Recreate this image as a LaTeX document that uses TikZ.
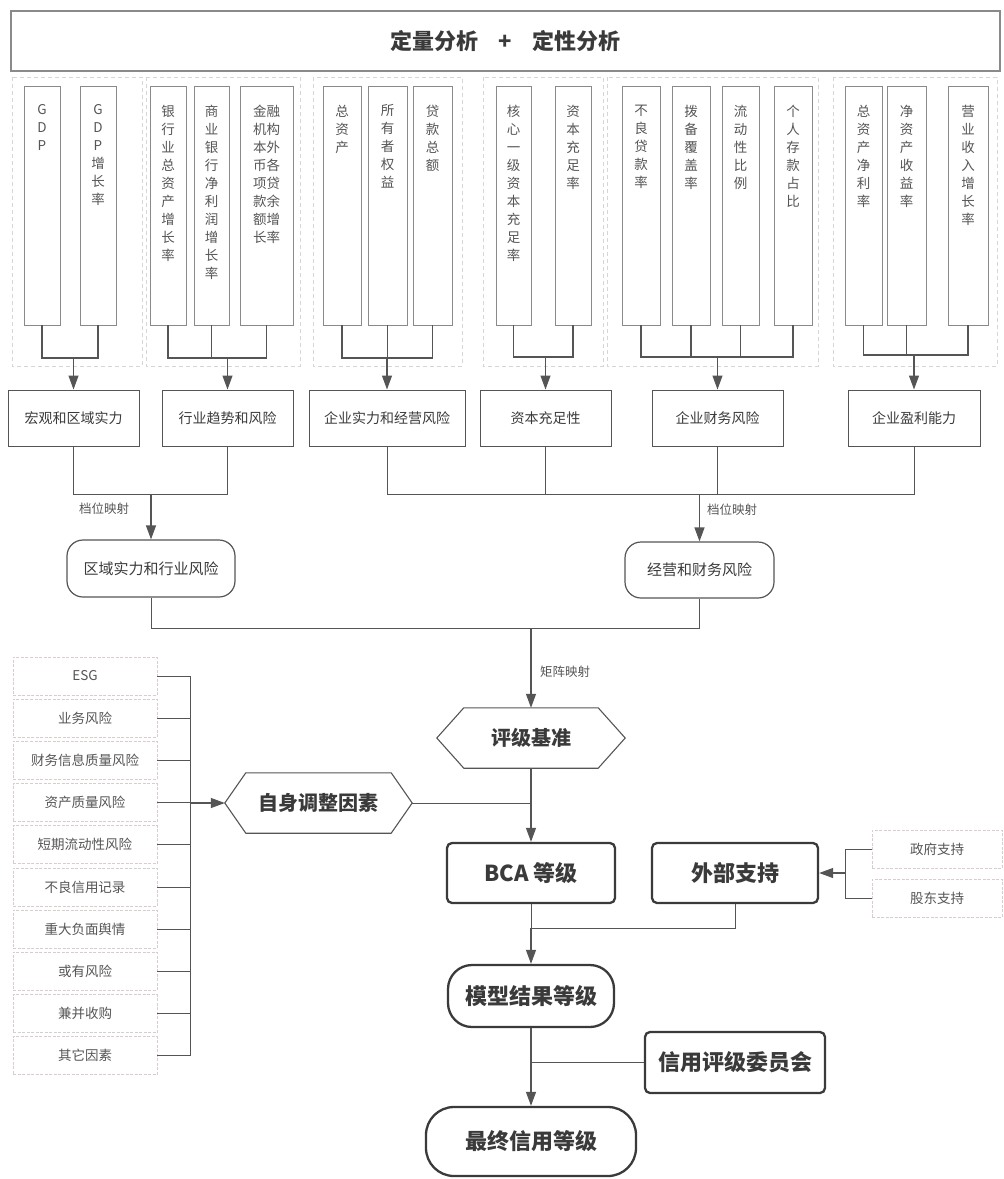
\documentclass[tikz,border=0pt]{standalone}
\usepackage{fontspec}
\setmainfont{Noto Sans CJK SC}
\usetikzlibrary{arrows.meta,calc}
\definecolor{ln}{HTML}{555555}
\definecolor{tx}{HTML}{555555}
\definecolor{dk}{HTML}{3A3A3A}
\definecolor{bx}{HTML}{8A8A8A}
\definecolor{grpc}{HTML}{D6D6D6}
\definecolor{lstc}{HTML}{D8CCCC}
\begin{document}
\begin{tikzpicture}[x=1pt,y=-1pt,
  conn/.style={draw=ln,line width=1.2pt},
  arr/.style={conn,-{Triangle[length=14pt,width=10pt]}},
  tall/.style={draw=bx,line width=0.9pt,inner sep=0pt,minimum height=239pt},
  vt/.style={font=\fontsize{13.5}{18}\selectfont,text=tx,align=center,anchor=north,inner sep=0pt},
  midbox/.style={draw=ln,line width=1pt,font=\fontsize{14}{16}\selectfont,text=dk,minimum height=56pt,inner sep=0pt},
  roundbox/.style={draw=ln,line width=1.2pt,rounded corners=16pt,font=\fontsize{15}{17}\selectfont,text=dk,inner sep=0pt},
  grp/.style={draw=grpc,dash pattern=on 4pt off 3pt,line width=0.8pt},
  lst/.style={draw=lstc,dash pattern=on 3pt off 1.5pt,line width=0.8pt,minimum width=144pt,minimum height=38pt,font=\fontsize{13.5}{15}\selectfont,text=tx,inner sep=0pt},
  thickbox/.style={draw=dk,line width=2.3pt,rounded corners=5pt,font=\bfseries\fontsize{22}{24}\selectfont,text=dk,inner sep=0pt},
  hexlbl/.style={font=\bfseries\fontsize{20}{22}\selectfont,text=dk,inner sep=0pt},
  hexline/.style={draw=ln,line width=1.1pt},
  small/.style={font=\fontsize{12.5}{14}\selectfont,text=tx,inner sep=0pt}
]
\useasboundingbox (0,0) rectangle (1004,1179);

% banner
\node[draw=bx,line width=1.5pt,minimum width=989pt,minimum height=60pt,inner sep=0pt,
      font=\bfseries\fontsize{22}{24}\selectfont,text=dk] (banner) at (505.5,41)
      {定量分析\hspace{20pt}+\hspace{20pt}定性分析};

% dashed groups
\draw[grp] (12,77) rectangle (142,366);
\draw[grp] (146,77) rectangle (300,366);
\draw[grp] (313,77) rectangle (462,366);
\draw[grp] (483,77) rectangle (603,366);
\draw[grp] (607,77) rectangle (818,366);
\draw[grp] (833,77) rectangle (997,366);

% tall boxes
\node[tall,minimum width=36pt] (a1) at (42,205.5) {};
\node[tall,minimum width=36pt] (a2) at (98,205.5) {};
\node[tall,minimum width=36pt] (b1) at (168,205.5) {};
\node[tall,minimum width=35pt] (b2) at (211.5,205.5) {};
\node[tall,minimum width=53pt] (b3) at (266.5,205.5) {};
\node[tall,minimum width=38pt] (c1) at (342,205.5) {};
\node[tall,minimum width=39pt] (c2) at (387.5,205.5) {};
\node[tall,minimum width=39pt] (c3) at (432.5,205.5) {};
\node[tall,minimum width=35pt] (d1) at (513.5,205.5) {};
\node[tall,minimum width=36pt] (d2) at (573,205.5) {};
\node[tall,minimum width=38pt] (e1) at (641,205.5) {};
\node[tall,minimum width=38pt] (e2) at (691,205.5) {};
\node[tall,minimum width=37pt] (e3) at (740.5,205.5) {};
\node[tall,minimum width=38pt] (e4) at (793,205.5) {};
\node[tall,minimum width=37pt] (f1) at (863.5,205.5) {};
\node[tall,minimum width=39pt] (f2) at (906.5,205.5) {};
\node[tall,minimum width=40pt] (f3) at (968,205.5) {};

\node[vt] (a1t) at ($(a1.north)+(0,19)$) {G\\D\\P};
\node[vt] (a2t) at ($(a2.north)+(0,19)$) {G\\D\\P\\增\\长\\率};
\node[vt] (b1t) at ($(b1.north)+(0,19)$) {银\\行\\业\\总\\资\\产\\增\\长\\率};
\node[vt] (b2t) at ($(b2.north)+(0,19)$) {商\\业\\银\\行\\净\\利\\润\\增\\长\\率};
\node[vt] (b3t) at ($(b3.north)+(0,19)$) {金融\\机构\\本外\\币各\\项贷\\款余\\额增\\长率};
\node[vt] (c1t) at ($(c1.north)+(0,19)$) {总\\资\\产};
\node[vt] (c2t) at ($(c2.north)+(0,19)$) {所\\有\\者\\权\\益};
\node[vt] (c3t) at ($(c3.north)+(0,19)$) {贷\\款\\总\\额};
\node[vt] (d1t) at ($(d1.north)+(0,19)$) {核\\心\\一\\级\\资\\本\\充\\足\\率};
\node[vt] (d2t) at ($(d2.north)+(0,19)$) {资\\本\\充\\足\\率};
\node[vt] (e1t) at ($(e1.north)+(0,19)$) {不\\良\\贷\\款\\率};
\node[vt] (e2t) at ($(e2.north)+(0,19)$) {拨\\备\\覆\\盖\\率};
\node[vt] (e3t) at ($(e3.north)+(0,19)$) {流\\动\\性\\比\\例};
\node[vt] (e4t) at ($(e4.north)+(0,19)$) {个\\人\\存\\款\\占\\比};
\node[vt] (f1t) at ($(f1.north)+(0,19)$) {总\\资\\产\\净\\利\\率};
\node[vt] (f2t) at ($(f2.north)+(0,19)$) {净\\资\\产\\收\\益\\率};
\node[vt] (f3t) at ($(f3.north)+(0,19)$) {营\\业\\收\\入\\增\\长\\率};

% middle row
\node[midbox,minimum width=131pt] (m1) at (73.5,418) {宏观和区域实力};
\node[midbox,minimum width=131pt] (m2) at (227.5,418) {行业趋势和风险};
\node[midbox,minimum width=156pt] (m3) at (387,418) {企业实力和经营风险};
\node[midbox,minimum width=131pt] (m4) at (545.5,418) {资本充足性};
\node[midbox,minimum width=131pt] (m5) at (717.5,418) {企业财务风险};
\node[midbox,minimum width=132pt] (m6) at (914,418) {企业盈利能力};

% bus coordinates level 1
\coordinate (g1) at (73.5,358);
\coordinate (g2) at (227.5,358);
\coordinate (g3) at (387,358);
\coordinate (g4) at (545.5,357);
\coordinate (g5) at (717.5,357);
\coordinate (g6) at (914,355);

\draw[conn] (a1.south) |- (g1); \draw[conn] (a2.south) |- (g1);
\draw[arr] (g1) -- (m1.north);
\draw[conn] (b1.south) |- (g2); \draw[conn] (b3.south) |- (g2);
\draw[conn] (b2.south) -- (b2.south |- g2);
\draw[arr] (g2) -- (m2.north);
\draw[conn] (c1.south) |- (g3); \draw[conn] (c3.south) |- (g3);
\draw[conn] (c2.south) -- (c2.south |- g3);
\draw[arr] (g3) -- (m3.north);
\draw[conn] (d1.south) |- (g4); \draw[conn] (d2.south) |- (g4);
\draw[arr] (g4) -- (m4.north);
\draw[conn] (e1.south) |- (g5); \draw[conn] (e4.south) |- (g5);
\draw[conn] (e2.south) -- (e2.south |- g5);
\draw[conn] (e3.south) -- (e3.south |- g5);
\draw[arr] (g5) -- (m5.north);
\draw[conn] (f1.south) |- (g6); \draw[conn] (f3.south) |- (g6);
\draw[conn] (f2.south) -- (f2.south |- g6);
\draw[arr] (g6) -- (m6.north);

% level 2
\node[roundbox,minimum width=168pt,minimum height=57pt] (r1) at (151,568.5) {区域实力和行业风险};
\node[roundbox,minimum width=149pt,minimum height=56pt] (r2) at (699.5,570) {经营和财务风险};
\coordinate (h1) at (151,494);
\coordinate (h2) at (699.5,494);
\draw[conn,line width=1pt] (m1.south) |- (h1); \draw[conn,line width=1pt] (m2.south) |- (h1);
\draw[arr] (h1) -- (r1.north);
\draw[conn,line width=1pt] (m3.south) |- (h2); \draw[conn,line width=1pt] (m6.south) |- (h2);
\draw[conn,line width=1pt] (m4.south) -- (m4.south |- h2);
\draw[conn,line width=1pt] (m5.south) -- (m5.south |- h2);
\draw[arr] (h2) -- (r2.north);
\node[small] (l1) at (104,509) {档位映射};
\node[small] (l2) at (732,510) {档位映射};

% level 3
\coordinate (h3) at (531,628);
\draw[conn,line width=1pt] (r1.south) |- (h3); \draw[conn,line width=1pt] (r2.south) |- (h3);
\node[hexlbl,minimum width=188pt,minimum height=60pt] (jz) at (531,738) {评级基准};
\draw[hexline] (jz.west) -- ($(jz.north west)+(27,0)$) -- ($(jz.north east)+(-27,0)$) -- (jz.east)
   -- ($(jz.south east)+(-27,0)$) -- ($(jz.south west)+(27,0)$) -- cycle;
\draw[arr] (h3) -- (jz.north);
\node[small] (l3) at (565,672) {矩阵映射};

% self adjustment
\node[hexlbl,minimum width=187pt,minimum height=60pt] (zs) at (318.5,803) {自身调整因素};
\draw[hexline] (zs.west) -- ($(zs.north west)+(21,0)$) -- ($(zs.north east)+(-21,0)$) -- (zs.east)
   -- ($(zs.south east)+(-21,0)$) -- ($(zs.south west)+(21,0)$) -- cycle;

\foreach \t [count=\i] in {ESG,业务风险,财务信息质量风险,资产质量风险,短期流动性风险,不良信用记录,重大负面舆情,或有风险,兼并收购,其它因素}
  \node[lst] (L\i) at (85,633.8+42.2*\i) {\t};
\coordinate (bxc) at (190,803);
\draw[conn,line width=1pt] (L1.east) -| (bxc);
\draw[conn,line width=1pt] (L10.east) -| (bxc);
\foreach \i in {2,...,9} \draw[conn,line width=1pt] (L\i.east) -- (L\i.east -| bxc);
\draw[arr] (bxc) -- (zs.west);

% BCA and external
\node[thickbox,minimum width=168pt,minimum height=60pt] (bca) at (531,873) {BCA 等级};
\node[thickbox,minimum width=166pt,minimum height=60pt] (ext) at (735,873) {外部支持};
\draw[arr] (jz.south) -- (bca.north);
\draw[conn,line width=1pt] (zs.east) -- (zs.east -| bca.north);

\node[lst,minimum width=130pt] (gf) at (937,849) {政府支持};
\node[lst,minimum width=130pt] (gd) at (937,898) {股东支持};
\coordinate (hx) at (845,873);
\draw[conn,line width=1pt] (gf.west) -| (hx);
\draw[conn,line width=1pt] (gd.west) -| (hx);
\draw[arr] (hx) -- (ext.east);

% model result
\coordinate (h4) at (531,928);
\draw[conn,line width=1pt] (bca.south) -- (h4);
\draw[conn,line width=1pt] (ext.south) |- (h4);
\node[thickbox,rounded corners=24pt,minimum width=166pt,minimum height=62pt] (mx) at (531,996) {模型结果等级};
\draw[arr] (h4) -- (mx.north);

\node[thickbox,minimum width=180pt,minimum height=61pt] (wy) at (735,1062.5) {信用评级委员会};
\node[thickbox,rounded corners=28pt,minimum width=210pt,minimum height=69pt] (zz) at (531,1141.5) {最终信用等级};
\draw[arr] (mx.south) -- (zz.north);
\draw[conn,line width=1pt] (wy.west) -- (wy.west -| mx.south);
\end{tikzpicture}
\end{document}
